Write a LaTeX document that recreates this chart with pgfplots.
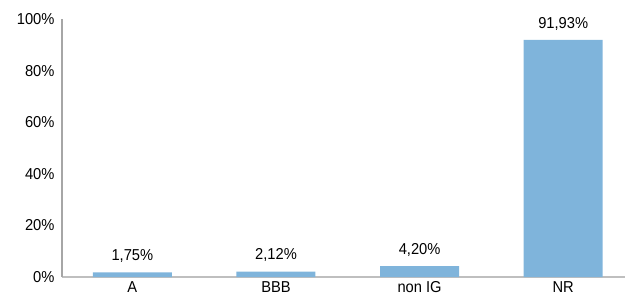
\documentclass[border=0pt]{standalone}
\usepackage{pgfplots}
\pgfplotsset{compat=1.18}
\usepackage{fontspec}
\setmainfont{Liberation Sans}[FakeStretch=0.93]
\definecolor{barblue}{RGB}{127,180,219}
\definecolor{axgray}{RGB}{166,166,166}
\definecolor{axgray2}{RGB}{191,191,191}
\begin{document}
\begin{tikzpicture}[x=1pt,y=1pt]
\begin{axis}[
  at={(62pt,18pt)}, anchor=south west,
  scale only axis,
  width=563pt, height=258pt,
  xmin=-0.49, xmax=3.43,
  ymin=0, ymax=100,
  axis x line*=bottom, axis y line*=left,
  x axis line style={draw=axgray2, line width=1.5pt, -},
  y axis line style={draw=axgray, line width=1.5pt, -},
  xtick={0,1,2,3},
  xticklabels={A,BBB,non IG,NR},
  ytick={0,20,40,60,80,100},
  yticklabel={\pgfmathprintnumber{\tick}\%},
  major tick length=0pt,
  tick style={draw=none},
  /pgf/number format/assume math mode=true,
  ticklabel style={font=\fontsize{15.8}{18}\selectfont},
  yticklabel style={xshift=-4pt},
  xticklabel style={yshift=-1pt},
  nodes near coords={\pgfmathprintnumber[use comma,fixed,fixed zerofill,precision=2,assume math mode=true]{\pgfplotspointmeta}\%},
  nodes near coords style={font=\fontsize{15.8}{18}\selectfont, yshift=6pt},
  clip=false,
]
\addplot[ybar, bar width=79pt, fill=barblue, draw=none] coordinates {(0,1.75) (1,2.12) (2,4.20) (3,91.93)};
\end{axis}
\pgfresetboundingbox
\path (0,0) rectangle (625,295);
\end{tikzpicture}
\end{document}
